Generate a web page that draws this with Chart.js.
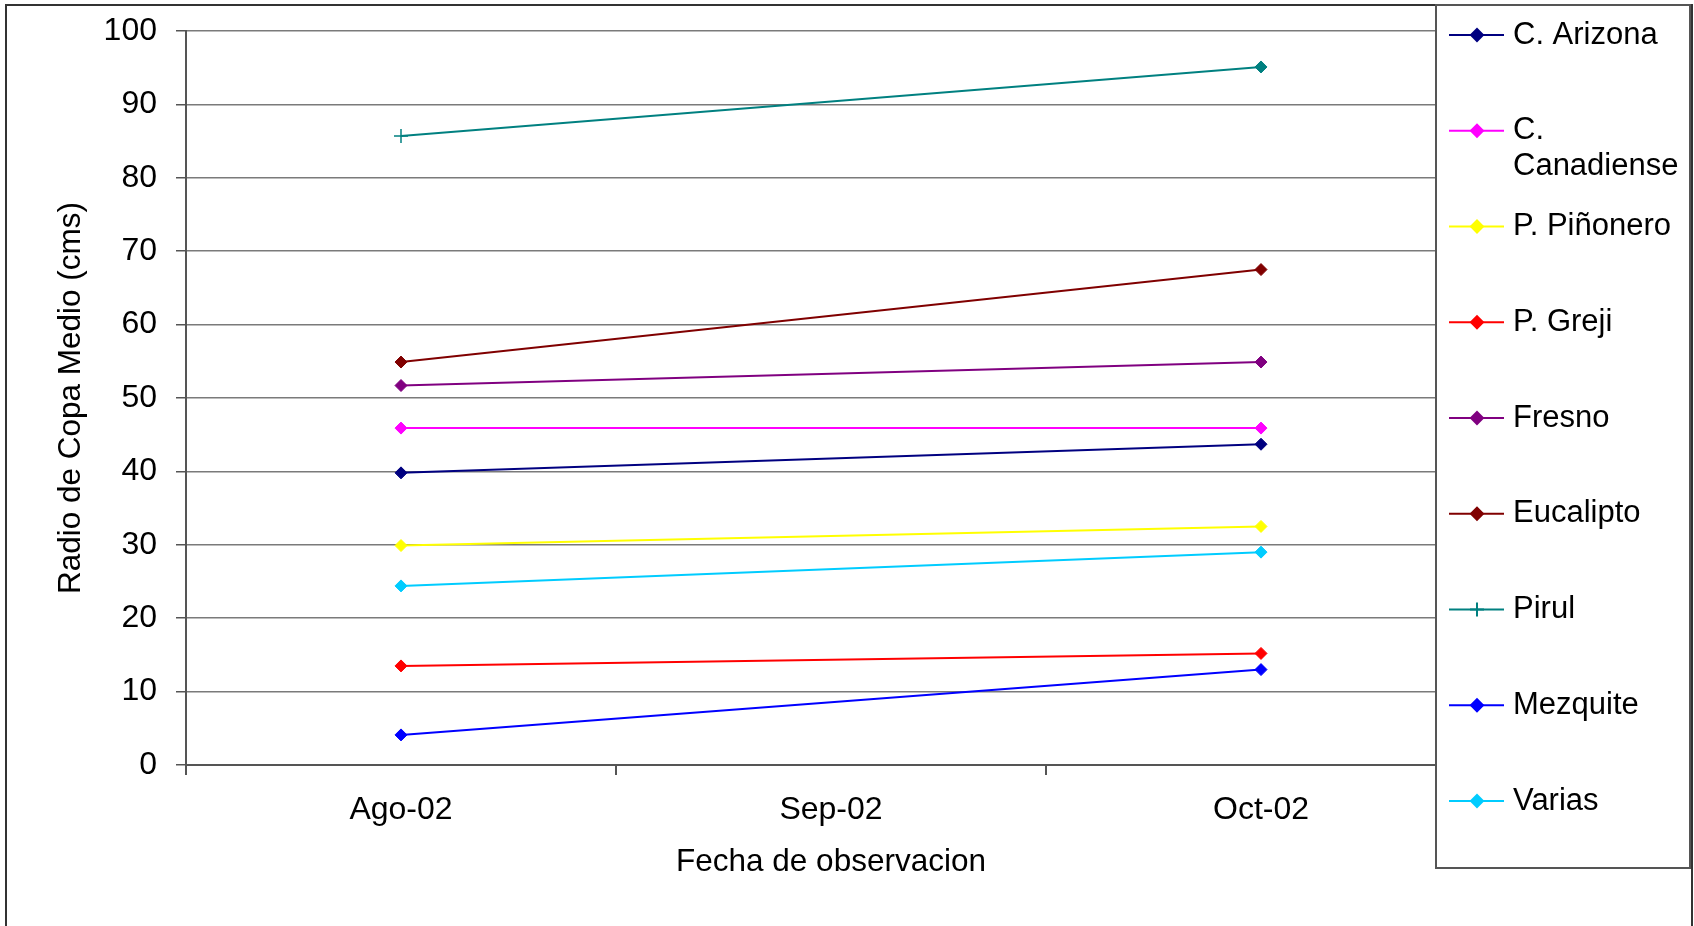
<!DOCTYPE html>
<html lang="es">
<head>
<meta charset="UTF-8">
<title>Radio de Copa Medio</title>
<script src="https://cdn.jsdelivr.net/npm/chart.js"></script>
<style>
  html, body { margin: 0; padding: 0; background: #fff; }
  #wrap { width: 1694px; height: 926px; }
</style>
</head>
<body>
<div id="wrap"><canvas id="copaChart" width="1694" height="926"></canvas></div>
<script>
// fechas de observacion (Sep-02 sin dato)
const fechas = ['Ago-02', 'Sep-02', 'Oct-02'];
const yTicks = [0, 10, 20, 30, 40, 50, 60, 70, 80, 90, 100];

const especies = ['C. Arizona', 'C. Canadiense', 'P. Piñonero', 'P. Greji', 'Fresno',
                  'Eucalipto', 'Pirul', 'Mezquite', 'Varias'];
const colores = ['#000080', '#FF00FF', '#FFFF00', '#FF0000', '#800080',
                 '#800000', '#008080', '#0000FF', '#00CCFF'];

const cArizona    = [39.8, null, 43.7];
const cCanadiense = [45.9, null, 45.9];
const pPinonero   = [29.9, null, 32.5];
const pGreji      = [13.5, null, 15.2];
const fresno      = [51.7, null, 54.9];
const eucalipto   = [54.9, null, 67.5];
const pirul       = [85.7, null, 95.1];
const mezquite    = [4.1, null, 13.0];
const varias      = [24.4, null, 29.0];

const series = [cArizona, cCanadiense, pPinonero, pGreji, fresno, eucalipto, pirul, mezquite, varias];

const FONT = '"Liberation Sans", Arial, sans-serif';

const datasets = series.map((vals, i) => {
  const isPirul = especies[i] === 'Pirul';
  return {
    label: especies[i],
    data: vals,
    borderColor: colores[i],
    backgroundColor: colores[i],
    borderWidth: 2,
    pointStyle: isPirul ? ['cross', 'rectRot', 'rectRot'] : 'rectRot',
    pointRadius: isPirul ? [7, 6, 6] : 6,
    pointBorderWidth: isPirul ? [1.5, 1, 1] : 1,
    spanGaps: true,
    tension: 0
  };
});

// marco exterior
const frame = {
  id: 'frame',
  beforeDraw(chart) {
    const ctx = chart.ctx;
    ctx.save();
    ctx.strokeStyle = '#333';
    ctx.lineWidth = 2;
    ctx.strokeRect(6, 5, 1686, 1000);
    ctx.restore();
  }
};

// leyenda tipo Excel, encima del area de trazado
const excelLegend = {
  id: 'excelLegend',
  afterDraw(chart) {
    const ctx = chart.ctx;
    const box = { x: 1436, y: 5, w: 254, h: 863 };
    ctx.save();
    ctx.fillStyle = '#fff';
    ctx.fillRect(box.x, box.y, box.w, box.h);
    ctx.strokeStyle = '#555';
    ctx.lineWidth = 2;
    ctx.strokeRect(box.x, box.y, box.w, box.h);

    ctx.font = '31px ' + FONT;
    ctx.textBaseline = 'middle';
    ctx.textAlign = 'left';
    const maxW = box.x + box.w - 1513 - 2;

    chart.data.datasets.forEach((ds, i) => {
      const y = 35 + i * 95.75;
      ctx.strokeStyle = ds.borderColor;
      ctx.lineWidth = 2;
      ctx.beginPath();
      ctx.moveTo(1449, y);
      ctx.lineTo(1504, y);
      ctx.stroke();

      const style = Array.isArray(ds.pointStyle) ? ds.pointStyle[0] : ds.pointStyle;
      ctx.fillStyle = ds.backgroundColor;
      Chart.helpers.drawPoint(ctx, { pointStyle: style, radius: style === 'cross' ? 7 : 6, borderWidth: 1.5 }, 1477, y);
      if (style !== 'cross') ctx.fill();

      // partir la etiqueta si no cabe
      const words = ds.label.split(' ');
      const lines = [];
      let cur = '';
      words.forEach(w => {
        const t = cur ? cur + ' ' + w : w;
        if (ctx.measureText(t).width > maxW && cur) { lines.push(cur); cur = w; }
        else cur = t;
      });
      lines.push(cur);
      ctx.fillStyle = '#000';
      lines.forEach((ln, k) => ctx.fillText(ln, 1513, y + k * 36));
    });
    ctx.restore();
  }
};

new Chart(document.getElementById('copaChart'), {
  type: 'line',
  data: { labels: fechas, datasets: datasets },
  options: {
    responsive: false,
    devicePixelRatio: 1,
    animation: false,
    layout: { padding: { left: 0, right: 218, top: 31, bottom: 0 } },
    plugins: { legend: { display: false }, tooltip: { enabled: false } },
    scales: {
      x: {
        type: 'category',
        offset: true,
        afterFit(scale) { scale.height = 161; },
        grid: { offset: true, drawOnChartArea: false, drawTicks: true, tickLength: 10, tickColor: '#555', lineWidth: 2 },
        border: { color: '#555', width: 2 },
        ticks: { color: '#000', padding: 16, font: { family: FONT, size: 32 }, maxRotation: 0 },
        title: { display: true, text: 'Fecha de observacion', color: '#000',
                 font: { family: FONT, size: 31.5 }, padding: { top: 0, bottom: 45 } }
      },
      y: {
        min: 0,
        max: 100,
        afterFit(scale) { scale.width = 186; scale.paddingTop = 0; scale.paddingBottom = 0; },
        afterBuildTicks(scale) { scale.ticks = yTicks.map(v => ({ value: v })); },
        grid: { color: '#7a7a7a', lineWidth: 1.5, drawTicks: true, tickLength: 10, tickColor: '#555' },
        border: { color: '#555', width: 2 },
        ticks: { color: '#000', padding: 19, font: { family: FONT, size: 32 } },
        title: { display: true, text: 'Radio de Copa Medio (cms)', color: '#000',
                 font: { family: FONT, size: 31.5 }, padding: { top: 52, bottom: 0 } }
      }
    }
  },
  plugins: [frame, excelLegend]
});
</script>
</body>
</html>
